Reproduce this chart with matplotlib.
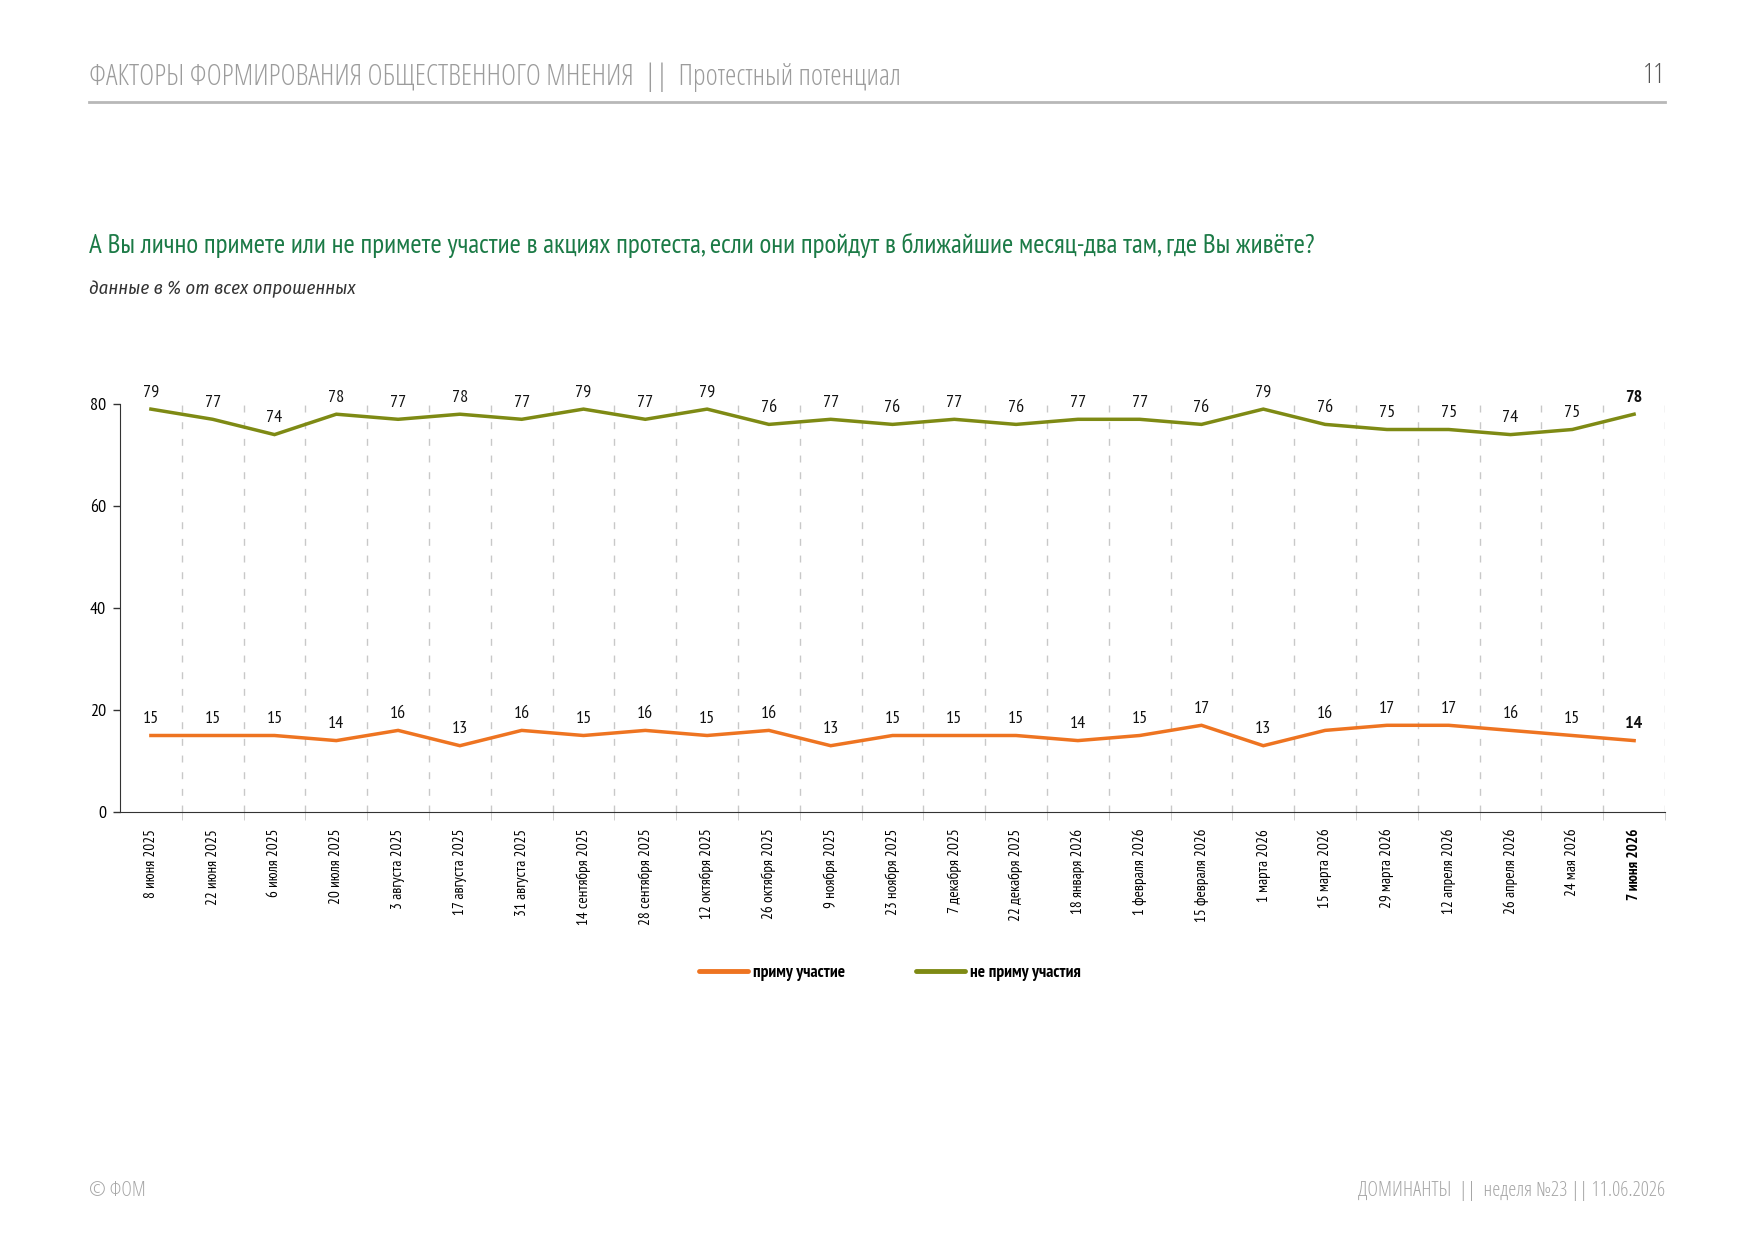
import matplotlib
matplotlib.use('Agg')
import matplotlib.pyplot as plt
from matplotlib.lines import Line2D
import numpy as np

plt.rcParams['font.family'] = ['PT Sans Narrow', 'Fira Sans Condensed', 'Roboto Condensed',
                               'DejaVu Sans']

# --- data -----------------------------------------------------------------------
DATES = ['8 июня 2025', '22 июня 2025', '6 июля 2025', '20 июля 2025',
         '3 августа 2025', '17 августа 2025', '31 августа 2025', '14 сентября 2025',
         '28 сентября 2025', '12 октября 2025', '26 октября 2025', '9 ноября 2025',
         '23 ноября 2025', '7 декабря 2025', '22 декабря 2025', '18 января 2026',
         '1 февраля 2026', '15 февраля 2026', '1 марта 2026', '15 марта 2026',
         '29 марта 2026', '12 апреля 2026', '26 апреля 2026', '24 мая 2026',
         '7 июня 2026']
WILL_TAKE_PART = [15, 15, 15, 14, 16, 13, 16, 15, 16, 15, 16, 13, 15, 15, 15,
                  14, 15, 17, 13, 16, 17, 17, 16, 15, 14]
WONT_TAKE_PART = [79, 77, 74, 78, 77, 78, 77, 79, 77, 79, 76, 77, 76, 77, 76,
                  77, 77, 76, 79, 76, 75, 75, 74, 75, 78]
SERIES_NAMES = ['приму участие', 'не приму участия']
Y_TICKS = [0, 20, 40, 60, 80]

ORANGE = '#EE7421'
OLIVE = '#7E8A14'
W, H = 1754, 1241
HEADER_FONT = dict(family='Open Sans', fontstretch='condensed', fontweight=300)

fig = plt.figure(figsize=(W / 100, H / 100), dpi=100)
ax = fig.add_axes([120 / W, 1 - 812 / H, (1665 - 120) / W, (812 - 404) / H])

x = np.arange(len(DATES))
n = len(DATES)
for vals, col in [(WILL_TAKE_PART, ORANGE), (WONT_TAKE_PART, OLIVE)]:
    ax.plot(x, vals, color=col, lw=2.5, solid_joinstyle='miter', zorder=3)
    for i, v in enumerate(vals):
        ax.annotate(f'{v}', (i, v), xytext=(0, 6), textcoords='offset points',
                    ha='center', va='bottom', fontsize=13, color='#111111',
                    fontweight='bold' if i == n - 1 else 'normal')

ax.set_xlim(-0.5, n - 0.5)
ax.set_ylim(0, 80)
for b in np.arange(0.5, n, 1.0):
    ax.axvline(b, color='#c8c8c8', lw=1, dashes=(5, 7), zorder=1)

for s in ['top', 'right']:
    ax.spines[s].set_visible(False)
ax.spines['left'].set_color('#333333')
ax.spines['bottom'].set_color('#333333')

ax.set_yticks(Y_TICKS)
ax.tick_params(axis='y', length=5, width=1, color='#333333', labelsize=13, pad=5)
ax.set_xticks(x)
ax.set_xticklabels(DATES, rotation=90, fontsize=11)
ax.tick_params(axis='x', length=0, pad=12)
ax.get_xticklabels()[-1].set_fontweight('bold')
ax.set_xticks(np.arange(0.5, n, 1.0), minor=True)
ax.tick_params(axis='x', which='minor', length=6, color='#c8c8c8')

# legend
handles = [Line2D([], [], color=ORANGE, lw=3.5, solid_capstyle='round'),
           Line2D([], [], color=OLIVE, lw=3.5, solid_capstyle='round')]
fig.legend(handles, SERIES_NAMES, loc='center', bbox_to_anchor=(890 / W, 1 - 973 / H),
           ncol=2, frameon=False, handlelength=2.8, handletextpad=0.3,
           columnspacing=4.1, prop={'size': 12.5, 'weight': 'bold'})

# page header / texts
fig.text(89 / W, 1 - 77 / H, 'ФАКТОРЫ ФОРМИРОВАНИЯ ОБЩЕСТВЕННОГО МНЕНИЯ  ||  Протестный потенциал',
         fontsize=20.8, color='#9c9c9c', va='center', ha='left', **HEADER_FONT)
fig.text(1665 / W, 1 - 76 / H, '11', fontsize=20, color='#555555', va='center', ha='right',
         **HEADER_FONT)
fig.add_artist(Line2D([89 / W, 1665 / W], [1 - 102 / H, 1 - 102 / H],
                      color='#b8b8b8', lw=2, transform=fig.transFigure))
fig.text(89 / W, 1 - 245 / H,
         'А Вы лично примете или не примете участие в акциях протеста, '
         'если они пройдут в ближайшие месяц-два там, где Вы живёте?',
         fontsize=19.5, color='#1B7A46', va='center', ha='left')
fig.text(89 / W, 1 - 289 / H, 'данные в % от всех опрошенных', fontsize=13.5,
         style='italic', color='#333333', va='center', ha='left',
         family=['Fira Sans Condensed', 'Roboto Condensed', 'DejaVu Sans'])

fig.text(89 / W, 1 - 1191 / H, '© ФОМ', fontsize=14.5, color='#a6a6a6', va='center',
         **HEADER_FONT)
fig.text(1665 / W, 1 - 1191 / H, 'ДОМИНАНТЫ  ||  неделя №23 || 11.06.2026', fontsize=14.7,
         color='#a6a6a6', va='center', ha='right', **HEADER_FONT)

fig.savefig('out.png', dpi=100, facecolor='white')
